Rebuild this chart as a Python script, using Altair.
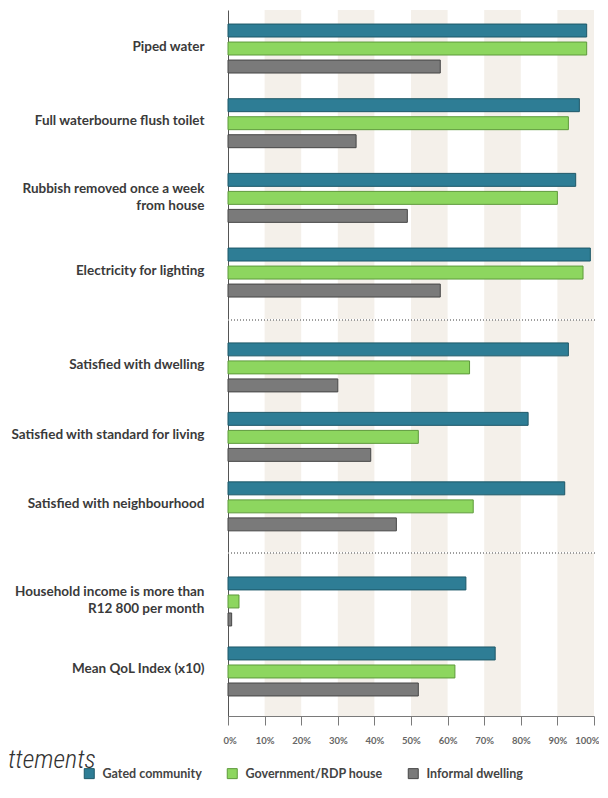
import altair as alt
import pandas as pd

categories = [
    "Piped water",
    "Full waterbourne flush toilet",
    "Rubbish removed once a week\nfrom house",
    "Electricity for lighting",
    "Satisfied with dwelling",
    "Satisfied with standard for living",
    "Satisfied with neighbourhood",
    "Household income is more than\nR12 800 per month",
    "Mean QoL Index (x10)",
]
sections = [0, 0, 0, 0, 1, 1, 1, 2, 2]
series = ["Gated community", "Government/RDP house", "Informal dwelling"]
gated = [98, 96, 95, 99, 93, 82, 92, 65, 73]
rdp = [98, 93, 90, 97, 66, 52, 67, 3, 62]
informal = [58, 35, 49, 58, 30, 39, 46, 1, 52]
shade_start = [10, 30, 50, 70, 90]
shade_end = [20, 40, 60, 80, 100]
x_ticks = [0, 10, 20, 30, 40, 50, 60, 70, 80, 90, 100]
fragment_text = ["ttements"]

rows = []
for i, c in enumerate(categories):
    for s, vals in zip(series, [gated, rdp, informal]):
        rows.append({"category": c, "section": sections[i], "series": s, "value": vals[i]})
df = pd.DataFrame(rows)
shade_df = pd.DataFrame({"start": shade_start, "end": shade_end})
frag_df = pd.DataFrame({"t": fragment_text})

W = 366
fill_colors = ["#2e7d95", "#8dd65f", "#7a7a7a"]
stroke_colors = ["#1d5868", "#5d9a3b", "#464646"]

panel_specs = [
    dict(height=309, pi=0.344, po=0.241, align=0.39, sep=False, xaxis=False),
    dict(height=232, pi=0.295, po=0.317, align=0.52, sep=True, xaxis=False),
    dict(height=163, pi=0.30, po=0.314, align=0.545, sep=True, xaxis=True),
]

legend_kw = dict(
    orient="none", legendX=-145, legendY=757, direction="horizontal", title=None,
    symbolType="square", symbolSize=100, symbolStrokeWidth=1,
    labelFont="Lato", labelFontWeight="bold", labelFontSize=12.5, labelColor="#444444",
    columnPadding=23, labelOffset=7,
)


def make_panel(k, spec):
    cats = [c for c, s in zip(categories, sections) if s == k]
    sub = df[df["section"] == k]
    xscale = alt.Scale(domain=[0, 100], nice=False)
    if spec["xaxis"]:
        xaxis = alt.Axis(
            title=None, values=x_ticks, labelExpr="datum.value + '%'", grid=False,
            labelFlush=True, labelFlushOffset=5,
            domainColor="#7a7a7a", tickColor="#7a7a7a", tickSize=9, labelPadding=10,
            labelFont="Lato", labelFontWeight="bold", labelFontSize=9.5, labelColor="#666666",
        )
    else:
        xaxis = None
    shade = alt.Chart(shade_df).mark_rect(color="#f4f0ea").encode(
        x=alt.X("start:Q", scale=xscale, axis=xaxis),
        x2="end:Q",
        y=alt.value(0),
        y2=alt.value(spec["height"]),
    )
    bars = alt.Chart(sub).mark_bar(strokeWidth=1).encode(
        x=alt.X("value:Q", scale=xscale, axis=xaxis),
        y=alt.Y(
            "category:N", sort=cats,
            scale=alt.Scale(domain=cats, paddingInner=spec["pi"], paddingOuter=spec["po"], align=spec["align"]),
            axis=alt.Axis(
                title=None, ticks=False, tickSize=0, labelPadding=24, domainColor="#555555",
                labelExpr="split(datum.label, '\\n')", labelLineHeight=17,
                labelOffset={"condition": {"test": "indexof(datum.value, '\\n') >= 0", "value": -9}, "value": -2},
                labelFont="Lato", labelFontWeight="bold", labelFontSize=13.5, labelColor="#3a3a3a",
                labelLimit=300,
            ),
        ),
        yOffset=alt.YOffset("series:N", sort=series, scale=alt.Scale(domain=series, paddingInner=0.28, paddingOuter=0)),
        fill=alt.Fill("series:N", scale=alt.Scale(domain=series, range=fill_colors), legend=alt.Legend(**legend_kw)),
        stroke=alt.Stroke("series:N", scale=alt.Scale(domain=series, range=stroke_colors), legend=alt.Legend(**legend_kw)),
    )
    layers = [shade]
    if spec["sep"]:
        layers.append(
            alt.Chart(shade_df).mark_rule(color="#9a9a9a", strokeDash=[1, 2], strokeWidth=1).encode(
                x=alt.value(0), x2=alt.value(W + 3), y=alt.value(0)
            )
        )
    layers.append(bars)
    if spec["xaxis"]:
        layers.append(
            alt.Chart(frag_df).mark_text(
                font="Roboto Condensed, Roboto", fontStyle="italic", fontWeight=300, fontSize=26,
                color="#333333", align="left", baseline="alphabetic",
            ).encode(text="t:N", x=alt.value(-220), y=alt.value(215))
        )
    return alt.layer(*layers).properties(width=W, height=spec["height"])


panels = [make_panel(k, s) for k, s in enumerate(panel_specs)]

chart = (
    alt.vconcat(*panels, spacing=0)
    .resolve_scale(y="independent")
    .properties(padding={"left": 0, "top": 2, "right": 0, "bottom": 0})
    .configure_view(stroke=None)
    .configure_axis(domainWidth=1)
)

chart.save("out.html", embed_options={"renderer": "svg", "actions": False})
